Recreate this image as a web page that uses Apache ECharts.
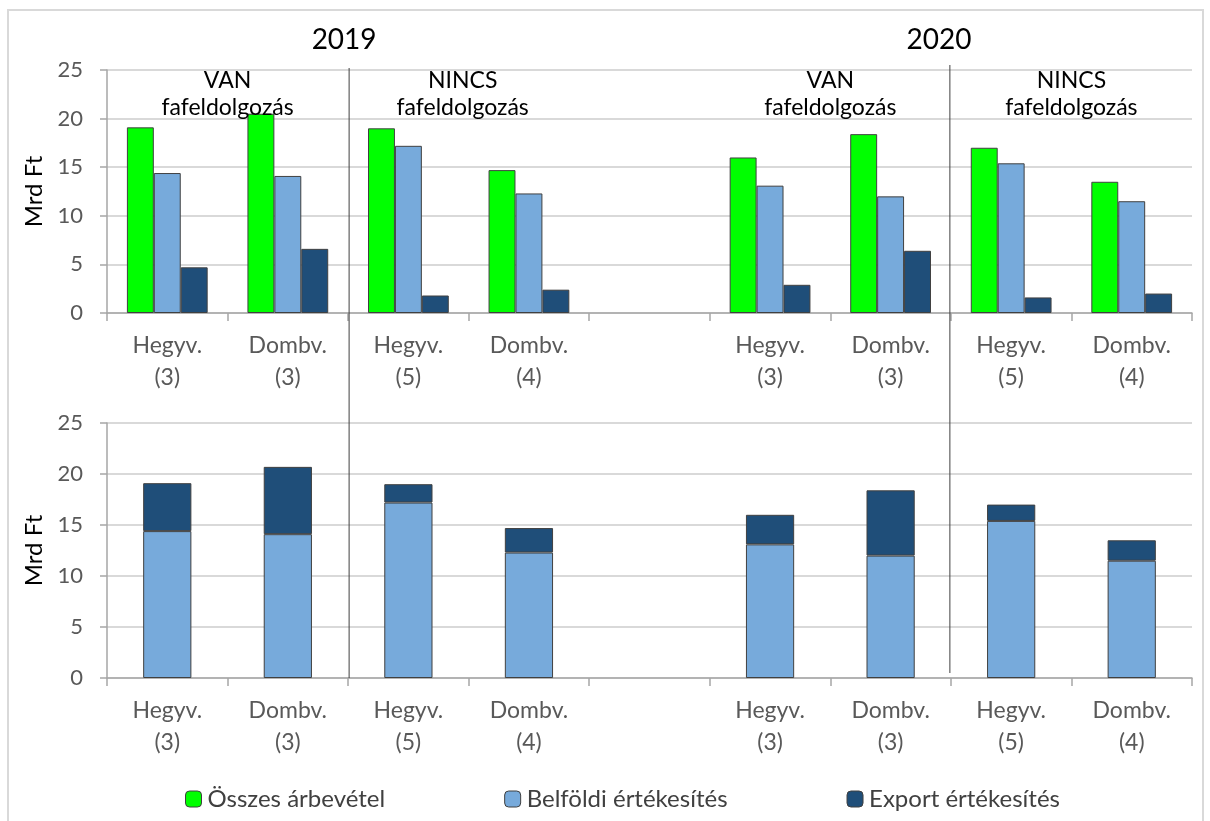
<!DOCTYPE html>
<html>
<head>
<meta charset="utf-8">
<script src="https://cdn.jsdelivr.net/npm/echarts@6/dist/echarts.min.js"></script>
<style>
html,body{margin:0;padding:0;background:#fff;}
#main{width:1210px;height:821px;}
</style>
</head>
<body>
<div id="main"></div>
<script>
const categories = ['Hegyv.\n(3)', 'Dombv.\n(3)', 'Hegyv.\n(5)', 'Dombv.\n(4)', '', 'Hegyv.\n(3)', 'Dombv.\n(3)', 'Hegyv.\n(5)', 'Dombv.\n(4)'];
const osszesArbevetel = [19.1, 20.5, 19.0, 14.7, null, 16.0, 18.4, 17.0, 13.5];
const belfoldiErtekesites = [14.4, 14.1, 17.2, 12.3, null, 13.1, 12.0, 15.4, 11.5];
const exportErtekesites = [4.7, 6.6, 1.8, 2.4, null, 2.9, 6.4, 1.6, 2.0];
const yTicks = [0, 5, 10, 15, 20, 25];
const yearLabels = ['2019', '2020'];
const groupLabels = ['VAN\nfafeldolgozás', 'NINCS\nfafeldolgozás', 'VAN\nfafeldolgozás', 'NINCS\nfafeldolgozás'];
const seriesNames = ['Összes árbevétel', 'Belföldi értékesítés', 'Export értékesítés'];

const FONT = 'Lato';
const colors = ['#00ff00', '#77aadb', '#1f4e79'];
const border = '#404040';

function xAxisCfg(gi) {
  return {
    type: 'category', gridIndex: gi, data: categories,
    axisLine: {lineStyle: {color: '#a6a6a6', width: 1.5}},
    axisTick: {show: true, length: 8, alignWithLabel: false, lineStyle: {color: '#a6a6a6', width: 1.5}},
    axisLabel: {color: '#595959', fontSize: 23, fontFamily: FONT, lineHeight: 32, margin: 17, interval: 0}
  };
}
function yAxisCfg(gi) {
  return {
    type: 'value', gridIndex: gi, min: 0, max: 25, interval: 5,
    name: 'Mrd Ft', nameLocation: 'middle', nameGap: 60, nameRotate: 90,
    nameTextStyle: {color: '#000', fontSize: 24, fontFamily: FONT},
    axisLine: {show: true, lineStyle: {color: '#a6a6a6', width: 1.5}},
    axisTick: {show: true, length: 7, lineStyle: {color: '#a6a6a6', width: 1.5}},
    axisLabel: {color: '#595959', fontSize: 22, fontFamily: FONT, margin: 24,
      formatter: v => yTicks.includes(v) ? String(v) : ''},
    splitLine: {lineStyle: {color: '#d9d9d9', width: 2}}
  };
}
const itemStyle = c => ({color: c, borderColor: border, borderWidth: 1});

const chart = echarts.init(document.getElementById('main'), null, {renderer: 'canvas'});
const option = {
  animation: false,
  backgroundColor: '#fff',
  textStyle: {fontFamily: FONT},
  grid: [
    {left: 107, right: 18, top: 70, height: 243},
    {left: 107, right: 18, top: 423, height: 255}
  ],
  xAxis: [xAxisCfg(0), xAxisCfg(1)],
  yAxis: [yAxisCfg(0), yAxisCfg(1)],
  legend: {
    data: seriesNames, left: 180, top: 782, itemWidth: 16, itemHeight: 16, itemGap: 119,
    textStyle: {color: '#404040', fontSize: 24, fontFamily: FONT, padding: [0, 0, 0, 1]},
    itemStyle: {borderColor: border, borderWidth: 1}
  },
  series: [
    {name: seriesNames[0], type: 'bar', xAxisIndex: 0, yAxisIndex: 0, data: osszesArbevetel,
     barGap: '0%', barCategoryGap: '33%', itemStyle: itemStyle(colors[0])},
    {name: seriesNames[1], type: 'bar', xAxisIndex: 0, yAxisIndex: 0, data: belfoldiErtekesites,
     barGap: '0%', barCategoryGap: '33%', itemStyle: itemStyle(colors[1])},
    {name: seriesNames[2], type: 'bar', xAxisIndex: 0, yAxisIndex: 0, data: exportErtekesites,
     barGap: '0%', barCategoryGap: '33%', itemStyle: itemStyle(colors[2])},
    {name: seriesNames[1], type: 'bar', xAxisIndex: 1, yAxisIndex: 1, stack: 'total', data: belfoldiErtekesites,
     barCategoryGap: '60%', itemStyle: itemStyle(colors[1])},
    {name: seriesNames[2], type: 'bar', xAxisIndex: 1, yAxisIndex: 1, stack: 'total', data: exportErtekesites,
     barCategoryGap: '60%', itemStyle: itemStyle(colors[2])}
  ]
};
chart.setOption(option);

// annotation positions derived from the axes
const cx = i => chart.convertToPixel({xAxisIndex: 0}, i);
const boundary = i => (cx(i - 1) + cx(i)) / 2;
const yTop = chart.convertToPixel({yAxisIndex: 0}, 25);
const yBottom0 = chart.convertToPixel({yAxisIndex: 1}, 0);

const graphics = [
  {type: 'rect', shape: {x: 8, y: 10, width: 1195, height: 830}, style: {fill: 'none', stroke: '#d9d9d9', lineWidth: 2}, z: -1},
  {type: 'line', shape: {x1: boundary(2) + 1, y1: yTop - 2, x2: boundary(2) + 1, y2: yBottom0}, style: {stroke: '#404040', lineWidth: 1}, z: 10},
  {type: 'line', shape: {x1: boundary(7) - 1, y1: yTop - 5, x2: boundary(7) - 1, y2: yBottom0 - 5}, style: {stroke: '#404040', lineWidth: 1}, z: 10},
  {type: 'text', x: boundary(2) - 4, y: 40, style: {text: yearLabels[0], fontSize: 28, fontFamily: FONT, fill: '#000', align: 'center', verticalAlign: 'middle'}},
  {type: 'text', x: boundary(7) - 12, y: 40, style: {text: yearLabels[1], fontSize: 28, fontFamily: FONT, fill: '#000', align: 'center', verticalAlign: 'middle'}}
];
[1, 3, 6, 8].forEach((b, k) => {
  graphics.push({type: 'text', x: boundary(b) - (k === 1 ? 6 : 0), y: 67,
    style: {text: groupLabels[k], fontSize: 23, fontFamily: FONT, fill: '#000', align: 'center', verticalAlign: 'top', lineHeight: 27}, z: 20});
});
chart.setOption({graphic: graphics});
</script>
</body>
</html>
